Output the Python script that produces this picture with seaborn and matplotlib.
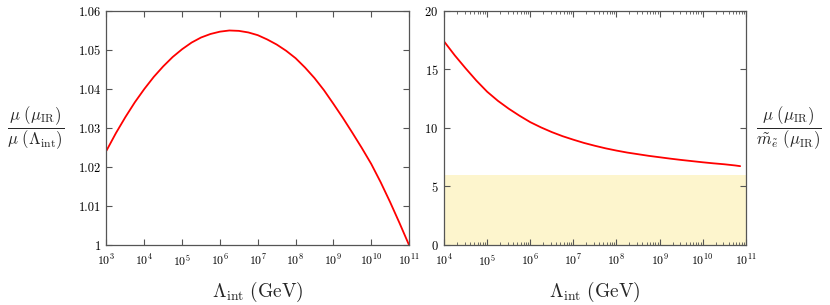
import numpy as np
import pandas as pd
import matplotlib
matplotlib.use("Agg")
import matplotlib.pyplot as plt
import matplotlib.ticker as mticker
import seaborn as sns

# left panel: mu(mu_IR)/mu(Lambda_int) vs log10(Lambda_int)
left_logx = [3.0, 3.25, 3.5, 3.75, 4.0, 4.25, 4.5, 4.75, 5.0, 5.25, 5.5, 5.75, 6.0, 6.25, 6.5,
             6.75, 7.0, 7.25, 7.5, 7.75, 8.0, 8.25, 8.5, 8.75, 9.0, 9.25, 9.5, 9.75, 10.0,
             10.25, 10.5, 10.75, 11.0]
left_y = [1.0242, 1.0287, 1.0328, 1.0366, 1.0400, 1.0431, 1.0458, 1.0482, 1.0502, 1.0519,
          1.0532, 1.0541, 1.0547, 1.0550, 1.0549, 1.0545, 1.0538, 1.0527, 1.0514, 1.0498,
          1.0479, 1.0455, 1.0428, 1.0397, 1.0362, 1.0326, 1.0288, 1.0249, 1.0208, 1.0161,
          1.0110, 1.0056, 1.0000]

# right panel: mu(mu_IR)/m_e~(mu_IR) vs log10(Lambda_int)
right_logx = [4.0, 4.25, 4.5, 4.75, 5.0, 5.25, 5.5, 5.75, 6.0, 6.25, 6.5, 6.75, 7.0, 7.25,
              7.5, 7.75, 8.0, 8.25, 8.5, 8.75, 9.0, 9.25, 9.5, 9.75, 10.0, 10.25, 10.5,
              10.75, 10.87]
right_y = [17.4, 16.2, 15.1, 14.05, 13.1, 12.32, 11.65, 11.05, 10.5, 10.05, 9.65, 9.3, 9.0,
           8.72, 8.48, 8.26, 8.07, 7.9, 7.76, 7.62, 7.5, 7.38, 7.27, 7.17, 7.07, 6.98, 6.9,
           6.8, 6.74]

excluded_top = 6  # shaded band 0..6

sns.set_style("ticks")
plt.rcParams["font.family"] = "serif"
plt.rcParams["font.serif"] = ["cmr10", "DejaVu Serif"]
plt.rcParams["mathtext.fontset"] = "cm"
plt.rcParams["axes.unicode_minus"] = False
plt.rcParams["axes.formatter.use_mathtext"] = True

df_l = pd.DataFrame({"x": np.power(10.0, left_logx), "y": left_y})
df_r = pd.DataFrame({"x": np.power(10.0, right_logx), "y": right_y})

fig = plt.figure(figsize=(8.3, 3.05), dpi=100)
ax1 = fig.add_axes([0.1283, 0.1967, 0.3645, 0.7673])
ax2 = fig.add_axes([0.535, 0.1967, 0.3635, 0.7673])

spine_col = "#555555"
xlab = r"$\Lambda_{\rm int}\ ({\rm GeV})$"

# ---- left ----
ax1.set_xscale("log")
sns.lineplot(data=df_l, x="x", y="y", ax=ax1, color="red", linewidth=1.3, sort=False)
ax1.set_xlim(1e3, 1e11)
ax1.set_ylim(1.0, 1.06)
ax1.xaxis.set_major_locator(mticker.LogLocator(base=10, numticks=20))
ax1.xaxis.set_minor_locator(mticker.NullLocator())
ax1.set_yticks([1.0, 1.01, 1.02, 1.03, 1.04, 1.05, 1.06])
ax1.set_yticklabels(["1", "1.01", "1.02", "1.03", "1.04", "1.05", "1.06"])
ax1.set_xlabel(xlab, fontsize=14, labelpad=8)
ax1.set_ylabel(r"$\dfrac{\mu\ (\mu_{\rm IR})}{\mu\ (\Lambda_{\rm int})}$", fontsize=12,
               rotation=0, ha="center", va="center")
ax1.yaxis.set_label_coords(-0.235, 0.5)

# ---- right ----
ax2.set_xscale("log")
ax2.axhspan(0, excluded_top, color="#fdf5cd", linewidth=0, zorder=0)
sns.lineplot(data=df_r, x="x", y="y", ax=ax2, color="red", linewidth=1.3, sort=False)
ax2.set_xlim(1e4, 1e11)
ax2.set_ylim(0, 20)
ax2.xaxis.set_major_locator(mticker.LogLocator(base=10, numticks=20))
ax2.xaxis.set_minor_locator(mticker.LogLocator(base=10, subs=np.arange(2, 10) * 1.0, numticks=100))
ax2.xaxis.set_minor_formatter(mticker.NullFormatter())
ax2.set_yticks([0, 5, 10, 15, 20])
ax2.set_xlabel(xlab, fontsize=14, labelpad=8)
ax2.set_ylabel(r"$\dfrac{\mu\ (\mu_{\rm IR})}{\tilde{m}_{\tilde{e}}\ (\mu_{\rm IR})}$", fontsize=12,
               rotation=0, ha="center", va="center")
ax2.yaxis.set_label_coords(1.143, 0.5)

for ax in (ax1, ax2):
    for s in ax.spines.values():
        s.set_visible(True)
        s.set_color(spine_col)
        s.set_linewidth(0.9)
    ax.tick_params(which="both", direction="in", top=True, right=True, left=True, bottom=True,
                   colors=spine_col, labelcolor="black", labelsize=9, pad=4)
    ax.tick_params(which="major", length=4, width=0.8)
    ax.tick_params(which="minor", length=2, width=0.6)
    ax.tick_params(axis="x", labelsize=8.5, pad=6)
    ax.tick_params(axis="y", labelleft=True, labelright=False)

plt.savefig("out.png", dpi=100)
